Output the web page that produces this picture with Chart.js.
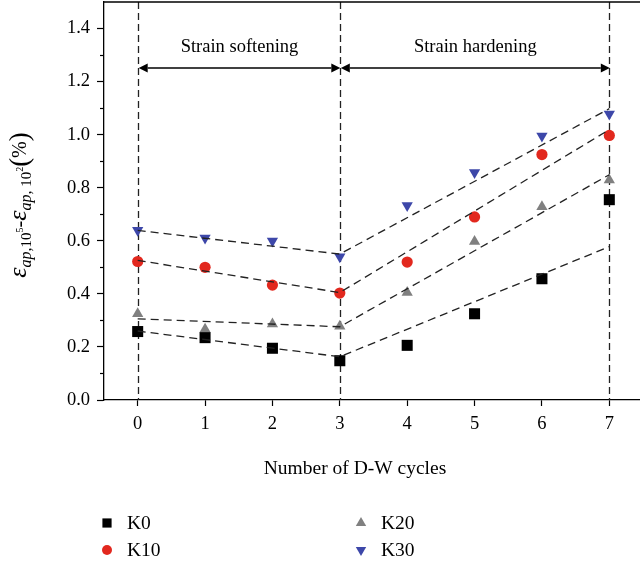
<!DOCTYPE html>
<html><head><meta charset="utf-8">
<script src="https://cdn.jsdelivr.net/npm/chart.js@4/dist/chart.umd.min.js"></script>
<style>
html,body{margin:0;padding:0;overflow:hidden;background:#fff;width:640px;height:565px}
#wrap{position:absolute;left:0;top:0;width:645px;height:565px}
</style>
</head><body><div id="wrap"><canvas id="c" width="645" height="565"></canvas></div>
<script>
// ---- data ----
const cycles = [0, 1, 2, 3, 4, 5, 6, 7];
const seriesNames = ['K0', 'K10', 'K20', 'K30'];
const k0  = [0.258, 0.235, 0.195, 0.148, 0.206, 0.325, 0.457, 0.755];
const k10 = [0.522, 0.500, 0.433, 0.403, 0.520, 0.690, 0.925, 0.997];
const k20 = [0.325, 0.267, 0.286, 0.278, 0.405, 0.597, 0.728, 0.829];
const k30 = [0.640, 0.611, 0.599, 0.540, 0.733, 0.857, 0.995, 1.078];
// dashed linear fits: softening (0 -> 3) and hardening (3 -> 7)
const fitX = [0, 3, 7];
const k0Fit  = [0.260, 0.163, 0.578];
const k10Fit = [0.526, 0.405, 1.019];
const k20Fit = [0.306, 0.276, 0.849];
const k30Fit = [0.639, 0.550, 1.098];
const stageLabels = ['Strain softening', 'Strain hardening'];
const stageBounds = [0, 3, 7];
const xTicks = [0, 1, 2, 3, 4, 5, 6, 7];
const yTickLabels = ['0.0', '0.2', '0.4', '0.6', '0.8', '1.0', '1.2', '1.4'];
const xTitle = 'Number of D-W cycles';

const SERIF = '"Liberation Serif", "DejaVu Serif", serif';
const colors = ['#000000', '#e2281e', '#808080', '#3d47a9'];
const styles = [
  {pointStyle: 'rect', radius: 7.8, rotation: 0},
  {pointStyle: 'circle', radius: 5.6, rotation: 0},
  {pointStyle: 'triangle', radius: 6.5, rotation: 0},
  {pointStyle: 'triangle', radius: 6.5, rotation: 180}
];
const values = [k0, k10, k20, k30];
const fits = [k0Fit, k10Fit, k20Fit, k30Fit];

const datasets = [];
values.forEach((vals, i) => {
  datasets.push({
    label: seriesNames[i], type: 'scatter', order: 2,
    data: cycles.map((c, j) => ({x: c, y: vals[j]})),
    backgroundColor: colors[i], borderColor: colors[i], borderWidth: 0,
    pointStyle: styles[i].pointStyle, pointRadius: styles[i].radius,
    pointRotation: styles[i].rotation, pointHoverRadius: styles[i].radius
  });
});
fits.forEach((vals, i) => {
  datasets.push({
    label: seriesNames[i] + ' fit', type: 'line', order: 1,
    data: fitX.map((c, j) => ({x: c, y: vals[j]})),
    borderColor: '#222', borderWidth: 1.3, borderDash: [8, 5],
    pointRadius: 0, fill: false, tension: 0
  });
});

function drawMarker(ctx, st, color, x, y, r) {
  ctx.save();
  ctx.fillStyle = color; ctx.strokeStyle = color;
  if (Chart.helpers && Chart.helpers.drawPoint) {
    Chart.helpers.drawPoint(ctx, {pointStyle: st.pointStyle, rotation: st.rotation, radius: r, borderWidth: 0}, x, y);
  }
  ctx.restore();
}

const decor = {
  id: 'decor',
  beforeDatasetsDraw(chart) {
    const {ctx, chartArea: a, scales: {x}} = chart;
    ctx.save();
    ctx.strokeStyle = '#222'; ctx.lineWidth = 1.3; ctx.setLineDash([7, 4]);
    stageBounds.forEach(b => {
      const px = Math.round(x.getPixelForValue(b)) + 0.5;
      ctx.beginPath(); ctx.moveTo(px, a.top); ctx.lineTo(px, a.bottom); ctx.stroke();
    });
    ctx.restore();
  },
  afterDraw(chart) {
    const {ctx, chartArea: a, scales: {x, y}} = chart;
    ctx.save();
    // top frame line
    ctx.strokeStyle = '#000'; ctx.lineWidth = 1.3;
    ctx.beginPath(); ctx.moveTo(a.left, a.top); ctx.lineTo(a.right + 5, a.top); ctx.stroke();
    // minor y ticks
    ctx.lineWidth = 1.2;
    for (let k = 1; k <= 13; k += 2) {
      const py = Math.round(y.getPixelForValue(k / 10)) + 0.5;
      ctx.beginPath(); ctx.moveTo(a.left - 4, py); ctx.lineTo(a.left, py); ctx.stroke();
    }
    // stage arrows + labels
    const ay = a.top + 66;
    const head = 9, hw = 4.5;
    ctx.fillStyle = '#000'; ctx.strokeStyle = '#000'; ctx.lineWidth = 1.3;
    for (let s = 0; s < stageLabels.length; s++) {
      const x1 = x.getPixelForValue(stageBounds[s]) + 1;
      const x2 = x.getPixelForValue(stageBounds[s + 1]) + 0.5;
      ctx.beginPath(); ctx.moveTo(x1 + head, ay); ctx.lineTo(x2 - head, ay); ctx.stroke();
      ctx.beginPath(); ctx.moveTo(x1, ay); ctx.lineTo(x1 + head, ay - hw); ctx.lineTo(x1 + head, ay + hw); ctx.closePath(); ctx.fill();
      ctx.beginPath(); ctx.moveTo(x2, ay); ctx.lineTo(x2 - head, ay - hw); ctx.lineTo(x2 - head, ay + hw); ctx.closePath(); ctx.fill();
      ctx.font = '18.5px ' + SERIF; ctx.textAlign = 'center'; ctx.textBaseline = 'alphabetic';
      ctx.fillText(stageLabels[s], (x1 + x2) / 2, a.top + 50);
    }
    // x title
    ctx.font = '19.5px ' + SERIF; ctx.textAlign = 'center'; ctx.textBaseline = 'alphabetic';
    ctx.fillText(xTitle, 355, 474);
    // y title (rotated, with sub/superscripts)
    const parts = [
      {t: 'ε', f: 'italic 26px', dy: 0},
      {t: 'ap,', f: 'italic 16px', dy: 5},
      {t: '10', f: '15px', dy: 5},
      {t: '5', f: '10px', dy: -3},
      {t: '-', f: '20px', dy: 0},
      {t: 'ε', f: 'italic 26px', dy: 0},
      {t: 'ap,', f: 'italic 16px', dy: 5},
      {t: ' 10', f: '15px', dy: 5},
      {t: '2', f: '10px', dy: -3},
      {t: '(', f: '27px', dy: 2},
      {t: '%', f: '20px', dy: 0},
      {t: ')', f: '27px', dy: 2}
    ];
    let total = 0;
    parts.forEach(p => { ctx.font = p.f + ' ' + SERIF; p.w = ctx.measureText(p.t).width; total += p.w; });
    ctx.translate(26, 205); ctx.rotate(-Math.PI / 2);
    let cx = -total / 2;
    ctx.textAlign = 'left'; ctx.fillStyle = '#000';
    parts.forEach(p => { ctx.font = p.f + ' ' + SERIF; ctx.fillText(p.t, cx, p.dy); cx += p.w; });
    ctx.setTransform(1, 0, 0, 1, 0, 0);
    // legend (2 columns, column-major)
    const legPos = [[107, 523], [107, 550], [361, 523], [361, 550]];
    const legR = [6.5, 5, 6, 6];
    ctx.font = '19.5px ' + SERIF; ctx.textAlign = 'left'; ctx.textBaseline = 'middle'; ctx.fillStyle = '#000';
    seriesNames.forEach((n, i) => {
      const [lx, ly] = legPos[i];
      drawMarker(ctx, styles[i], colors[i], lx, ly, legR[i]);
      ctx.fillStyle = '#000';
      ctx.fillText(n, lx + 20, ly + 1);
    });
    ctx.restore();
  }
};

new Chart(document.getElementById('c'), {
  type: 'scatter',
  data: {datasets},
  options: {
    responsive: false, animation: false, devicePixelRatio: 1,
    layout: {autoPadding: false, padding: {top: 2, right: 2, left: 0, bottom: 0}},
    plugins: {legend: {display: false}, tooltip: {enabled: false}},
    scales: {
      x: {
        type: 'linear', min: -0.5, max: 7.5,
        afterBuildTicks: ax => { ax.ticks = xTicks.map(v => ({value: v})); },
        afterFit: ax => { ax.height = 165; ax.paddingLeft = 0; ax.paddingRight = 0; },
        grid: {drawOnChartArea: false, drawTicks: true, tickLength: 6, tickColor: '#000', tickWidth: 1.2},
        border: {display: true, color: '#000', width: 1.3},
        ticks: {font: {family: SERIF, size: 18.5}, color: '#000', padding: 7, autoSkip: false, maxRotation: 0,
                callback: v => String(v)}
      },
      y: {
        type: 'linear', min: 0, max: 1.5,
        afterBuildTicks: ax => { ax.ticks = yTickLabels.map(s => ({value: parseFloat(s)})); },
        afterFit: ax => { ax.width = 104; ax.paddingTop = 0; ax.paddingBottom = 0; },
        grid: {drawOnChartArea: false, drawTicks: true, tickLength: 7, tickColor: '#000', tickWidth: 1.2},
        border: {display: true, color: '#000', width: 1.3},
        ticks: {font: {family: SERIF, size: 18.5}, color: '#000', padding: 7, autoSkip: false,
                callback: (v, i) => yTickLabels[i]}
      }
    }
  },
  plugins: [decor]
});
</script>
</body></html>
